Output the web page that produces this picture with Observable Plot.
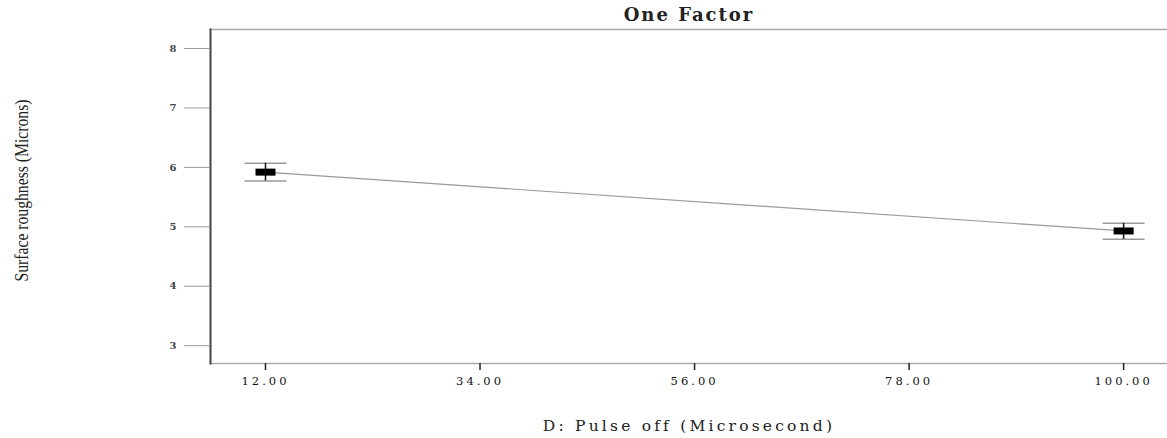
<!DOCTYPE html>
<html>
<head>
<meta charset="utf-8">
<script src="https://cdn.jsdelivr.net/npm/d3@7"></script>
<script src="https://cdn.jsdelivr.net/npm/@observablehq/plot@0.6"></script>
<style>
  body { margin: 0; background: #fff; }
  #chart svg { display: block; }
  g[aria-label="y-axis tick"] { stroke: #9a9a9a; }
  g[aria-label="x-axis tick label"] text { letter-spacing: 3px; }
  .xlab text { letter-spacing: 3.2px; }
  .ttl text { letter-spacing: 2px; }
</style>
</head>
<body>
<div id="chart"></div>
<script>
// Data
const title = "One Factor";
const xLabel = "D: Pulse off (Microsecond)";
const yLabel = "Surface roughness (Microns)";
const factorLevels = [12, 100];
const meanRoughness = [5.92, 4.93];
const lowerCI = [5.77, 4.79];
const upperCI = [6.07, 5.06];
const xTicks = [12, 34, 56, 78, 100];
const yTicks = [3, 4, 5, 6, 7, 8];
const xDomain = [6.36, 104.5];
const yDomain = [2.7, 8.32];

const pts = factorLevels.map((x, i) => ({x, mean: meanRoughness[i], lo: lowerCI[i], hi: upperCI[i]}));

const boxSymbol = { draw(ctx) { ctx.rect(-10, -3.5, 20, 7); } };
const capSymbol = { draw(ctx) { ctx.moveTo(-21, 0); ctx.lineTo(21, 0); } };

const chart = Plot.plot({
  width: 1167,
  height: 438,
  marginLeft: 210,
  marginRight: 0,
  marginTop: 29,
  marginBottom: 75,
  style: { fontFamily: "DejaVu Serif", background: "#fff", overflow: "visible" },
  x: { domain: xDomain },
  y: { domain: yDomain },
  marks: [
    Plot.frame({ anchor: "top", stroke: "#aaa", strokeWidth: 1.5 }),
    Plot.frame({ anchor: "bottom", stroke: "#aaa", strokeWidth: 1.5 }),
    Plot.frame({ anchor: "left", stroke: "#444", strokeWidth: 2 }),
    Plot.axisY({ ticks: yTicks, tickSize: 26, tickPadding: 8, fontSize: 10, fontWeight: "bold", fill: "#444", tickFormat: d => String(d), label: null }),
    Plot.axisX({ ticks: xTicks, tickSize: 7, tickPadding: 6, fontSize: 11.5, fill: "#111", stroke: "#222", strokeWidth: 1.5, tickFormat: d => d.toFixed(2), label: null }),
    Plot.line(pts, { x: "x", y: "mean", stroke: "#999", strokeWidth: 1.2 }),
    Plot.dot(pts, { x: "x", y: "lo", symbol: capSymbol, r: 5, stroke: "#999", strokeWidth: 1.5, fill: "none" }),
    Plot.dot(pts, { x: "x", y: "hi", symbol: capSymbol, r: 5, stroke: "#999", strokeWidth: 1.5, fill: "none" }),
    Plot.ruleX(pts, { x: "x", y1: "lo", y2: "hi", stroke: "#111", strokeWidth: 1.5 }),
    Plot.dot(pts, { x: "x", y: "mean", symbol: boxSymbol, r: 5, fill: "#000", stroke: "none" }),
    Plot.text([title], { text: d => d, frameAnchor: "top", dy: -14, fontSize: 18, fontWeight: "bold", fill: "#222", lineAnchor: "middle", className: "ttl" }),
    Plot.text([xLabel], { text: d => d, frameAnchor: "bottom", dy: 63, fontSize: 15.5, fill: "#222", lineAnchor: "middle", className: "xlab" }),
    Plot.text([yLabel], { text: d => d, frameAnchor: "left", textAnchor: "middle", dx: -188, dy: -6, rotate: -90, fontSize: 18, fill: "#222", lineAnchor: "middle", fontFamily: "Liberation Serif", className: "ylab" })
  ]
});
document.getElementById("chart").appendChild(chart);
d3.select(chart).selectAll(".ylab text")
  .attr("textLength", 182)
  .attr("lengthAdjust", "spacingAndGlyphs");
</script>
</body>
</html>
